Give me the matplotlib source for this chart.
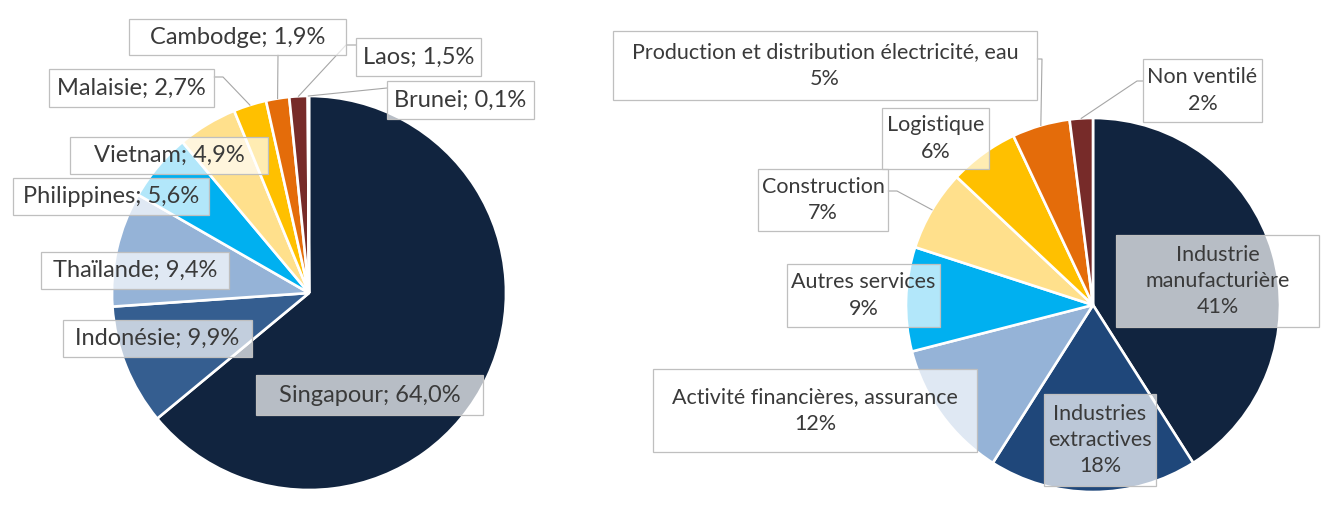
import matplotlib.pyplot as plt
from matplotlib.patches import Rectangle
import numpy as np

W, H = 1330, 509

# Répartition par pays (%)
pays = ['Singapour', 'Indonésie', 'Thaïlande', 'Philippines', 'Vietnam',
        'Malaisie', 'Cambodge', 'Laos', 'Brunei']
pays_parts = [64.0, 9.9, 9.4, 5.6, 4.9, 2.7, 1.9, 1.5, 0.1]

# Répartition par secteur (%)
secteurs = ['Industrie\nmanufacturière', 'Industries\nextractives',
            'Activité financières, assurance', 'Autres services', 'Construction',
            'Logistique', 'Production et distribution électricité, eau', 'Non ventilé']
secteurs_parts = [41, 18, 12, 9, 7, 6, 5, 2]

couleurs_pays = ['#11243F', '#355E90', '#95B3D7', '#00B0F0', '#FFE08C',
                 '#FFC000', '#E46C0A', '#772B29', '#C0504D']
couleurs_secteurs = ['#11243F', '#1F477A', '#95B3D7', '#00B0F0', '#FFE08C',
                     '#FFC000', '#E46C0A', '#772B29']

# boites des étiquettes (x0, y0, x1, y1) en pixels de l'image, y depuis le haut
boites_pays = [(256, 375, 483, 415), (63, 320, 252, 357), (41, 252, 229, 289),
               (13, 178, 209, 215), (70, 137, 268, 174), (49, 69, 214, 107),
               (129, 19, 346, 55), (356, 38, 481, 76), (387, 81, 534, 119)]
boites_secteurs = [(1116, 235, 1319, 327), (1044, 394, 1156, 486), (653, 369, 977, 452),
                   (787, 264, 940, 327), (758, 169, 888, 231), (882, 108, 989, 169),
                   (613, 31, 1037, 100), (1143, 59, 1262, 122)]

# lignes de rappel : indice de la part -> points de départ (le bout est sur la part)
rappels_pays = {5: [(214, 77), (223, 77)], 6: [(278, 55)],
                7: [(356, 45), (346, 45)], 8: [(387, 88)]}
rappels_secteurs = {6: [(1037, 59), (1042, 59)], 7: [(1143, 81), (1137, 81)],
                    4: [(888, 191), (897, 191)]}

texte_couleur = '#3A3A3A'
police = 'Lato'


def etiq_pays(nom, v):
    return nom + '; ' + ('%.1f' % v).replace('.', ',') + '%'


def etiq_secteur(nom, v):
    return nom + '\n' + '%d%%' % v


def camembert(ax, parts, couleurs, centre, rayon, noms, fmt, boites, rappels, taille):
    cx, cy = centre[0], H - centre[1]
    wedges, _ = ax.pie(parts, colors=couleurs, startangle=90, counterclock=False,
                       center=(cx, cy), radius=rayon, normalize=True,
                       wedgeprops=dict(edgecolor='white', linewidth=1.9))
    for i, pts in rappels.items():
        w = wedges[i]
        a = np.deg2rad((w.theta1 + w.theta2) / 2)
        xs = [p[0] for p in pts] + [cx + rayon * np.cos(a)]
        ys = [H - p[1] for p in pts] + [cy + rayon * np.sin(a)]
        ax.plot(xs, ys, color='#A6A6A6', lw=0.8, zorder=3)
    for nom, v, b in zip(noms, parts, boites):
        x0, y0, x1, y1 = b
        ax.add_patch(Rectangle((x0, H - y1), x1 - x0, y1 - y0, facecolor='white',
                               alpha=0.7, edgecolor='none', zorder=4))
        ax.add_patch(Rectangle((x0, H - y1), x1 - x0, y1 - y0, facecolor='none',
                               edgecolor='#BFBFBF', lw=0.9, zorder=5))
        ax.text((x0 + x1) / 2, H - (y0 + y1) / 2, fmt(nom, v), ha='center', va='center',
                multialignment='center', linespacing=1.4, fontsize=taille,
                family=police, color=texte_couleur, zorder=6)


fig = plt.figure(figsize=(W / 100, H / 100), dpi=100)
ax = fig.add_axes([0, 0, 1, 1])

camembert(ax, pays_parts, couleurs_pays, (309, 293), 197, pays, etiq_pays,
          boites_pays, rappels_pays, 17)
camembert(ax, secteurs_parts, couleurs_secteurs, (1093, 305), 187, secteurs, etiq_secteur,
          boites_secteurs, rappels_secteurs, 15.5)

ax.set_xlim(0, W)
ax.set_ylim(0, H)
ax.set_aspect('equal')
ax.axis('off')

fig.savefig('out.png', dpi=100, facecolor='white')
